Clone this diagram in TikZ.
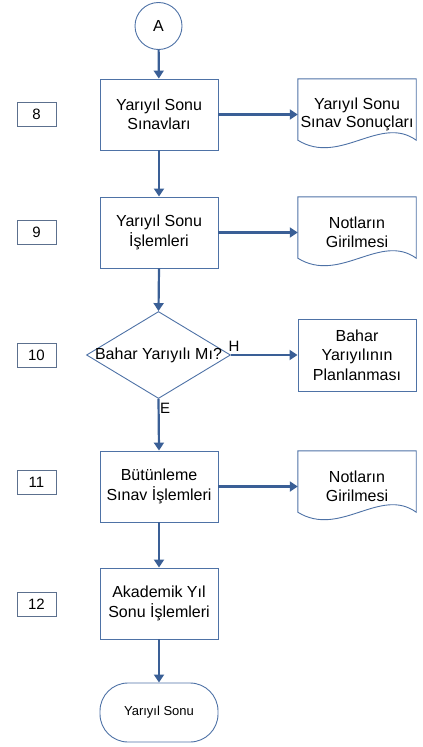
\documentclass[tikz,border=0pt]{standalone}
\usepackage{fontspec}
\setmainfont{Liberation Sans}
\usetikzlibrary{shapes.geometric,arrows.meta}
\definecolor{flowline}{RGB}{58,95,150}
\definecolor{shapeline}{RGB}{78,114,166}
\definecolor{tagline}{RGB}{92,112,142}
\tikzset{
  x=1bp, y=-1bp,
  base/.style={font=\fontsize{16bp}{19.3bp}\selectfont, text=black, align=center, inner sep=0pt},
  procbox/.style={base, rectangle, draw=shapeline, line width=0.9bp, minimum width=118bp, minimum height=71bp},
  docbox/.style={base, rectangle, minimum width=118bp, minimum height=71bp},
  tagbox/.style={base, rectangle, draw=tagline, line width=0.9bp, minimum width=39bp, minimum height=24bp, font=\fontsize{15bp}{18bp}\selectfont},
  flow/.style={draw=flowline, line width=2.2bp, -{Triangle[length=8bp,width=10bp]}},
  boxline/.style={draw=shapeline, line width=0.9bp},
  branch/.style={base, font=\fontsize{15bp}{18bp}\selectfont}
}
% wavy-bottom document outline around a named node
\newcommand\docoutline[1]{%
  \draw[boxline] (#1.north west) -- (#1.north east) -- ([yshift=10bp]#1.south east)
    .. controls ([xshift=-36bp,yshift=36bp]#1.south east) and ([xshift=42bp,yshift=-16bp]#1.south west)
    .. ([yshift=10bp]#1.south west) -- cycle;}
\begin{document}
\begin{tikzpicture}
\useasboundingbox (0,0) rectangle (422,747);

% connector circle
\node[base, circle, draw=shapeline, line width=0.9bp, minimum size=47bp] (a) at (158.5,26) {A};

% main column
\node[procbox] (b8) at (159,114.5) {Yarıyıl Sonu\\Sınavları};
\node[procbox] (b9) at (159,232.5) {Yarıyıl Sonu\\İşlemleri};
\node[diamond, draw=shapeline, line width=0.9bp, minimum width=144bp, minimum height=87bp, inner sep=0pt] (d) at (158.5,355) {};
\node[base] (dq) at (d.center) {Bahar Yarıyılı Mı?};
\node[procbox] (b11) at (159,486.5) {Bütünleme\\Sınav İşlemleri};
\node[procbox] (b12) at (159,603.5) {Akademik Yıl\\Sonu İşlemleri};
\node[base, rectangle, rounded corners=28bp, draw=shapeline, line width=0.9bp, minimum width=118bp, minimum height=59bp, font=\fontsize{13bp}{16bp}\selectfont] (end) at (159,712.5) {Yarıyıl Sonu};

% right column
\node[docbox] (r8) at (357,114.5) {\raisebox{-2bp}{\shortstack{Yarıyıl Sonu\\Sınav Sonuçları}}};
\docoutline{r8}
\node[docbox] (r9) at (357,232.5) {Notların\\Girilmesi};
\docoutline{r9}
\node[procbox, minimum height=72bp] (plan) at (357,355) {Bahar\\Yarıyılının\\Planlanması};
\node[docbox] (r11) at (357,486.5) {Notların\\Girilmesi};
\docoutline{r11}

% step numbers
\node[tagbox] (t8) at (36.5,114) {8};
\node[tagbox] (t9) at (36.5,232.5) {9};
\node[tagbox] (t10) at (36.5,355) {10};
\node[tagbox] (t11) at (36.5,482.5) {11};
\node[tagbox] (t12) at (36.5,604) {12};

% connectors
\draw[flow] (a) -- (b8);
\draw[flow] (b8) -- (r8);
\draw[flow] (b8) -- (b9);
\draw[flow] (b9) -- (r9);
\draw[flow] (b9.south) -- (d.north);
\draw[flow] (d.east) -- (plan.west);
\draw[flow] (d.south) -- (b11.north);
\draw[flow] (b11) -- (r11);
\draw[flow] (b11) -- (b12);
\draw[flow] (b12) -- (end);

% branch labels
\node[branch] (h) at (234,346) {H};
\node[branch] (e) at (165,408.5) {E};
\end{tikzpicture}
\end{document}
